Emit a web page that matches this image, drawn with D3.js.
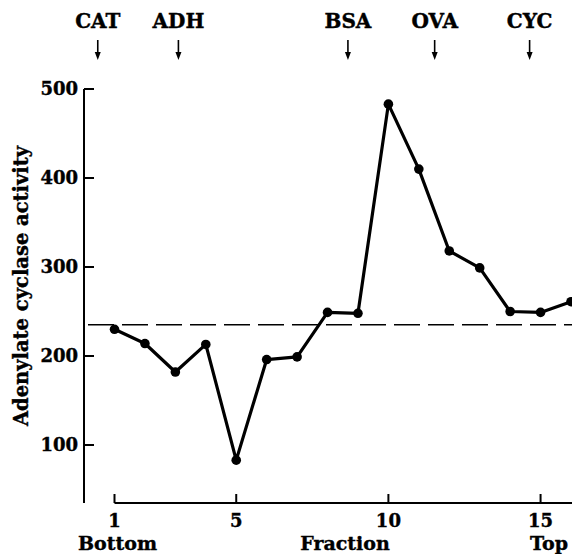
<!DOCTYPE html>
<html>
<head>
<meta charset="utf-8">
<script src="https://cdn.jsdelivr.net/npm/d3@7"></script>
<style>
  html, body { margin: 0; padding: 0; background: #fff; }
  svg { display: block; }
  text { font-family: "DejaVu Serif", "Liberation Serif", serif; font-weight: bold; fill: #000; stroke: #000; stroke-width: 0.4px; }
</style>
</head>
<body>
<script>
// ---- data ----
const fractions = [1, 2, 3, 4, 5, 6, 7, 8, 9, 10, 11, 12, 13, 14, 15, 16];
const activity  = [230, 214, 182, 213, 83, 196, 199, 249, 248, 483, 410, 318, 299, 250, 249, 261];
const baselineActivity = 235;
const yTicks = [100, 200, 300, 400, 500];
const xTicks = [1, 5, 10, 15];
const markerNames = ["CAT", "ADH", "BSA", "OVA", "CYC"];
const markerFractions = [0.45, 3.1, 8.67, 11.52, 14.64];

// ---- layout ----
const W = 572, H = 554;
const svg = d3.select("body").append("svg").attr("width", W).attr("height", H);

const x = d3.scaleLinear().domain([1, 16]).range([114.5, 571]);
const y = d3.scaleLinear().domain([100, 500]).range([445, 89]);
const axisX = 84;          // y-axis position
const axisY = 503;         // x-axis position

// Y axis (ticks pointing inward / right)
const yAxis = svg.append("g").attr("transform", `translate(${axisX},0)`);
yAxis.append("line").attr("x1", 0).attr("x2", 0).attr("y1", y(500)).attr("y2", axisY)
  .attr("stroke", "#000").attr("stroke-width", 2);
yAxis.selectAll("line.tick").data(yTicks).join("line").attr("class", "tick")
  .attr("x1", 0).attr("x2", 10).attr("y1", d => y(d)).attr("y2", d => y(d))
  .attr("stroke", "#000").attr("stroke-width", 2);
yAxis.selectAll("text").data(yTicks).join("text")
  .attr("x", -6).attr("y", d => y(d)).attr("dy", "0.36em")
  .attr("text-anchor", "end").attr("font-size", 18).text(d => d);

// X axis (ticks pointing up)
const xAxis = svg.append("g").attr("transform", `translate(0,${axisY})`);
xAxis.append("line").attr("x1", x(1)).attr("x2", W).attr("y1", 0).attr("y2", 0)
  .attr("stroke", "#000").attr("stroke-width", 2);
xAxis.selectAll("line.tick").data(xTicks).join("line").attr("class", "tick")
  .attr("x1", d => x(d)).attr("x2", d => x(d)).attr("y1", 0).attr("y2", -9)
  .attr("stroke", "#000").attr("stroke-width", 2);
xAxis.selectAll("text").data(xTicks).join("text")
  .attr("x", d => x(d)).attr("y", 24)
  .attr("text-anchor", "middle").attr("font-size", 18).text(d => d);

svg.append("text").attr("x", x(1) + 3).attr("y", 550).attr("text-anchor", "middle")
  .attr("font-size", 19).text("Bottom");
svg.append("text").attr("x", 345).attr("y", 550).attr("text-anchor", "middle")
  .attr("font-size", 19).text("Fraction");
svg.append("text").attr("x", 530).attr("y", 550).attr("text-anchor", "start")
  .attr("font-size", 19).text("Top");

// Y axis title
svg.append("text").attr("transform", "translate(28,286) rotate(-90)")
  .attr("text-anchor", "middle").attr("font-size", 19.5).text("Adenylate cyclase activity");

// Dashed reference line
svg.append("line").attr("x1", axisX + 4).attr("x2", W)
  .attr("y1", y(baselineActivity)).attr("y2", y(baselineActivity))
  .attr("stroke", "#000").attr("stroke-width", 1.5).attr("stroke-dasharray", "26,8");

// Data line
const pts = fractions.map((f, i) => [f, activity[i]]);
svg.append("path").datum(pts)
  .attr("fill", "none").attr("stroke", "#000").attr("stroke-width", 3.2).attr("stroke-linejoin", "round")
  .attr("d", d3.line().x(d => x(d[0])).y(d => y(d[1])));
svg.selectAll("circle.pt").data(pts).join("circle").attr("class", "pt")
  .attr("cx", d => x(d[0])).attr("cy", d => y(d[1])).attr("r", 4.8).attr("fill", "#000");

// Marker proteins on top
const mk = svg.append("g");
const markers = markerNames.map((n, i) => ({ name: n, f: markerFractions[i] }));
mk.selectAll("text").data(markers).join("text")
  .attr("x", d => x(d.f)).attr("y", 28).attr("text-anchor", "middle")
  .attr("font-size", 20).text(d => d.name);
mk.selectAll("line").data(markers).join("line")
  .attr("x1", d => x(d.f)).attr("x2", d => x(d.f)).attr("y1", 40).attr("y2", 54)
  .attr("stroke", "#000").attr("stroke-width", 1.6);
mk.selectAll("path").data(markers).join("path")
  .attr("d", d => { const cx = x(d.f); return `M${cx - 3},52 L${cx + 3},52 L${cx},60 Z`; })
  .attr("fill", "#000");
</script>
</body>
</html>
